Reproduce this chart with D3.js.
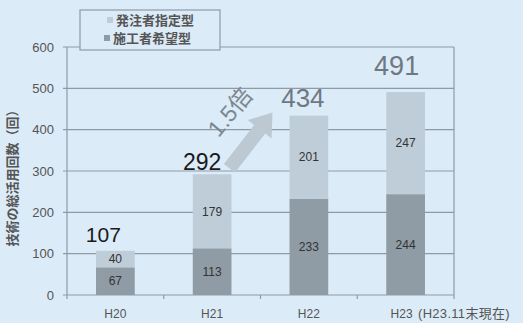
<!DOCTYPE html>
<html>
<head>
<meta charset="utf-8">
<script src="https://cdn.jsdelivr.net/npm/d3@7"></script>
<style>
  html, body { margin: 0; padding: 0; background: #dcebf8; }
  svg { display: block; font-family: "Liberation Sans", Arial, "Noto Sans CJK JP", sans-serif; }
</style>
</head>
<body>
<svg id="chart" width="523" height="323"></svg>
<script>
// Fiscal years and yearly counts, split by contract type
const years = ["H20", "H21", "H22", "H23"];
const ownerSpecified = [40, 179, 201, 247];   // 発注者指定型
const contractorRequested = [67, 113, 233, 244]; // 施工者希望型
const totals = [107, 292, 434, 491];
const yTicks = [0, 100, 200, 300, 400, 500, 600];
const seriesNames = ["発注者指定型", "施工者希望型"];
const growthLabel = "1.5倍";
const yTitle = "技術の総活用回数（回）";
const asOfNote = "(H23.11末現在)";

const colLight = "#bfcdd8";
const colDark = "#8f9ba5";
const gridCol = "#8e9ba7";

const svg = d3.select("#chart");
const m = { left: 67, right: 454, top: 47, bottom: 295 };

const x = d3.scaleBand().domain(years).range([m.left, m.right]).paddingInner(0.6).paddingOuter(0.3);
const xb = d3.scaleBand().domain(years).range([m.left, m.right]);
const y = d3.scaleLinear().domain([0, 600]).range([m.bottom, m.top]);

// Gridlines with short outside ticks
svg.append("g").selectAll("line").data(yTicks).join("line")
  .attr("x1", m.left - 4).attr("x2", m.right)
  .attr("y1", d => y(d)).attr("y2", d => y(d))
  .attr("stroke", gridCol).attr("stroke-width", 1.2);

// Plot frame (left and right edges)
svg.append("line").attr("x1", m.left).attr("x2", m.left).attr("y1", m.top).attr("y2", m.bottom)
  .attr("stroke", gridCol).attr("stroke-width", 1.2);
svg.append("line").attr("x1", m.right).attr("x2", m.right).attr("y1", m.top).attr("y2", m.bottom)
  .attr("stroke", gridCol).attr("stroke-width", 1.2);

// Category boundary ticks on the x axis
const bounds = years.map(d => xb(d)).concat([m.right]);
svg.append("g").selectAll("line").data(bounds).join("line")
  .attr("x1", d => d).attr("x2", d => d)
  .attr("y1", m.bottom).attr("y2", m.bottom + 4)
  .attr("stroke", gridCol).attr("stroke-width", 1.2);

// Y tick labels
svg.append("g").selectAll("text").data(yTicks).join("text")
  .attr("x", m.left - 13).attr("y", d => y(d)).attr("dy", "0.35em")
  .attr("text-anchor", "end").attr("font-size", 13).attr("fill", "#555")
  .text(d => d);

// X tick labels
svg.append("g").selectAll("text").data(years).join("text")
  .attr("x", (d, i) => x(d) + x.bandwidth() / 2 - (i === years.length - 1 ? 4 : 0)).attr("y", 318)
  .attr("text-anchor", "middle").attr("font-size", 12).attr("fill", "#555")
  .text(d => d);
svg.append("text").attr("x", 418).attr("y", 318)
  .attr("font-size", 13).attr("fill", "#555").attr("letter-spacing", 0.3).text(asOfNote);

// Y axis title
svg.append("text")
  .attr("transform", `translate(17,${(m.top + m.bottom) / 2 + 4}) rotate(-90)`)
  .attr("text-anchor", "middle").attr("font-size", 13).attr("font-weight", "bold")
  .attr("fill", "#555").attr("font-family", "'Noto Sans CJK JP', sans-serif").text(yTitle);

// Stacked bars
const stack = d3.stack().keys(["dark", "light"])(
  years.map((yr, i) => ({ year: yr, dark: contractorRequested[i], light: ownerSpecified[i] }))
);
const colors = { dark: colDark, light: colLight };
const segG = svg.append("g");
stack.forEach(layer => {
  segG.append("g").selectAll("rect").data(layer).join("rect")
    .attr("x", d => x(d.data.year)).attr("width", x.bandwidth())
    .attr("y", d => y(d[1])).attr("height", d => y(d[0]) - y(d[1]))
    .attr("fill", colors[layer.key]);
  segG.append("g").selectAll("text").data(layer).join("text")
    .attr("x", d => x(d.data.year) + x.bandwidth() / 2)
    .attr("y", d => (y(d[0]) + y(d[1])) / 2).attr("dy", "0.36em")
    .attr("text-anchor", "middle").attr("font-size", 12).attr("fill", "#333")
    .text(d => d[1] - d[0]);
});

// Totals above bars
const totalSize = [21, 23, 26, 27];
const totalFill = ["#1a1a1a", "#1a1a1a", "#6f7881", "#6f7881"];
const totalNudge = [[-12, -9], [-10, -4], [-6, -9], [-9, -17]];
svg.append("g").selectAll("text").data(totals).join("text")
  .attr("x", (d, i) => x(years[i]) + x.bandwidth() / 2 + totalNudge[i][0])
  .attr("y", (d, i) => y(d) + totalNudge[i][1])
  .attr("text-anchor", "middle")
  .attr("font-size", (d, i) => totalSize[i])
  .attr("fill", (d, i) => totalFill[i])
  .text(d => d);

// Growth arrow between H21 and H22
const x0 = x("H21") + x.bandwidth() - 2, y0 = y(totals[1]) - 6;
const x1 = x("H22") - 17, y1 = y(totals[2]) - 3;
const ang = Math.atan2(y1 - y0, x1 - x0);
const len = Math.hypot(x1 - x0, y1 - y0);
const sw = 7, hw = 15, hl = 21;
const pts = [[0, -sw], [len - hl, -sw], [len - hl, -hw], [len, 0], [len - hl, hw], [len - hl, sw], [0, sw]];
svg.append("polygon")
  .attr("points", pts.map(p => p.join(",")).join(" "))
  .attr("transform", `translate(${x0},${y0}) rotate(${ang * 180 / Math.PI})`)
  .attr("fill", "#bcc8d2");
svg.append("text")
  .attr("transform", `translate(230,112) rotate(-50)`)
  .attr("text-anchor", "middle").attr("dy", "0.35em")
  .attr("font-size", 23).attr("fill", "#7c8791")
  .text(growthLabel);

// Legend
const lg = svg.append("g");
lg.append("rect").attr("x", 80).attr("y", 10).attr("width", 140).attr("height", 40)
  .attr("fill", "#dcebf8").attr("stroke", gridCol).attr("stroke-width", 1.2);
const legendRows = [
  { name: seriesNames[0], color: colLight, sx: 107, cy: 20 },
  { name: seriesNames[1], color: colDark, sx: 104, cy: 38 }
];
legendRows.forEach(r => {
  lg.append("rect").attr("x", r.sx).attr("y", r.cy - 3).attr("width", 6).attr("height", 6).attr("fill", r.color);
  lg.append("text").attr("x", r.sx + 9).attr("y", r.cy).attr("dy", "0.36em")
    .attr("font-size", 13).attr("font-weight", "bold").attr("fill", "#555")
    .attr("font-family", "'Noto Sans CJK JP', sans-serif").text(r.name);
});
</script>
</body>
</html>
